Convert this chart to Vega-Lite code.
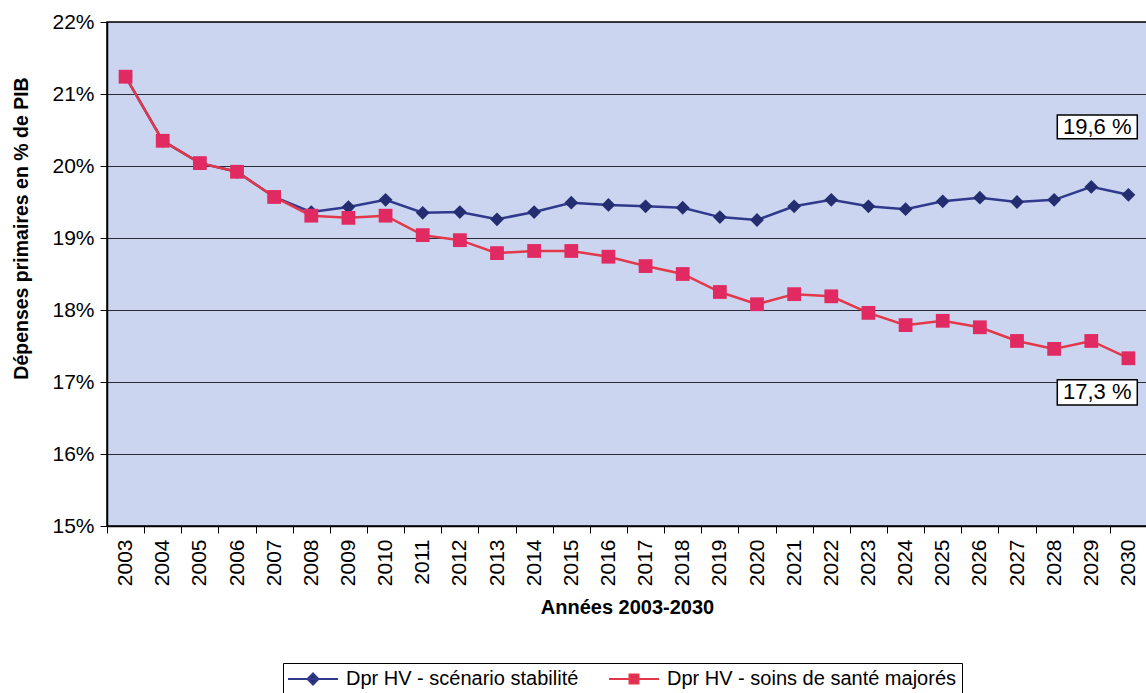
{
  "$schema": "https://vega.github.io/schema/vega-lite/v6.json",
  "width": 1040,
  "height": 504,
  "autosize": {"type": "none"},
  "padding": {"left": 107, "top": 22, "right": 0, "bottom": 167},
  "background": "white",
  "config": {
    "font": "Liberation Sans",
    "view": {"fill": "#cbd5f0", "stroke": "black", "strokeWidth": 1.5},
    "axis": {"labelFont": "Liberation Sans", "titleFont": "Liberation Sans", "labelColor": "black", "titleColor": "black"}
  },
  "datasets": {
    "series": [
      {"year": 2003, "series": "Dpr HV - scénario stabilité", "value": 21.24},
      {"year": 2004, "series": "Dpr HV - scénario stabilité", "value": 20.35},
      {"year": 2005, "series": "Dpr HV - scénario stabilité", "value": 20.04},
      {"year": 2006, "series": "Dpr HV - scénario stabilité", "value": 19.92},
      {"year": 2007, "series": "Dpr HV - scénario stabilité", "value": 19.57},
      {"year": 2008, "series": "Dpr HV - scénario stabilité", "value": 19.36},
      {"year": 2009, "series": "Dpr HV - scénario stabilité", "value": 19.43},
      {"year": 2010, "series": "Dpr HV - scénario stabilité", "value": 19.53},
      {"year": 2011, "series": "Dpr HV - scénario stabilité", "value": 19.35},
      {"year": 2012, "series": "Dpr HV - scénario stabilité", "value": 19.36},
      {"year": 2013, "series": "Dpr HV - scénario stabilité", "value": 19.26},
      {"year": 2014, "series": "Dpr HV - scénario stabilité", "value": 19.36},
      {"year": 2015, "series": "Dpr HV - scénario stabilité", "value": 19.49},
      {"year": 2016, "series": "Dpr HV - scénario stabilité", "value": 19.46},
      {"year": 2017, "series": "Dpr HV - scénario stabilité", "value": 19.44},
      {"year": 2018, "series": "Dpr HV - scénario stabilité", "value": 19.42},
      {"year": 2019, "series": "Dpr HV - scénario stabilité", "value": 19.29},
      {"year": 2020, "series": "Dpr HV - scénario stabilité", "value": 19.25},
      {"year": 2021, "series": "Dpr HV - scénario stabilité", "value": 19.44},
      {"year": 2022, "series": "Dpr HV - scénario stabilité", "value": 19.53},
      {"year": 2023, "series": "Dpr HV - scénario stabilité", "value": 19.44},
      {"year": 2024, "series": "Dpr HV - scénario stabilité", "value": 19.40},
      {"year": 2025, "series": "Dpr HV - scénario stabilité", "value": 19.51},
      {"year": 2026, "series": "Dpr HV - scénario stabilité", "value": 19.56},
      {"year": 2027, "series": "Dpr HV - scénario stabilité", "value": 19.50},
      {"year": 2028, "series": "Dpr HV - scénario stabilité", "value": 19.53},
      {"year": 2029, "series": "Dpr HV - scénario stabilité", "value": 19.71},
      {"year": 2030, "series": "Dpr HV - scénario stabilité", "value": 19.60},
      {"year": 2003, "series": "Dpr HV - soins de santé majorés", "value": 21.24},
      {"year": 2004, "series": "Dpr HV - soins de santé majorés", "value": 20.35},
      {"year": 2005, "series": "Dpr HV - soins de santé majorés", "value": 20.04},
      {"year": 2006, "series": "Dpr HV - soins de santé majorés", "value": 19.92},
      {"year": 2007, "series": "Dpr HV - soins de santé majorés", "value": 19.57},
      {"year": 2008, "series": "Dpr HV - soins de santé majorés", "value": 19.31},
      {"year": 2009, "series": "Dpr HV - soins de santé majorés", "value": 19.28},
      {"year": 2010, "series": "Dpr HV - soins de santé majorés", "value": 19.31},
      {"year": 2011, "series": "Dpr HV - soins de santé majorés", "value": 19.04},
      {"year": 2012, "series": "Dpr HV - soins de santé majorés", "value": 18.97},
      {"year": 2013, "series": "Dpr HV - soins de santé majorés", "value": 18.79},
      {"year": 2014, "series": "Dpr HV - soins de santé majorés", "value": 18.82},
      {"year": 2015, "series": "Dpr HV - soins de santé majorés", "value": 18.82},
      {"year": 2016, "series": "Dpr HV - soins de santé majorés", "value": 18.74},
      {"year": 2017, "series": "Dpr HV - soins de santé majorés", "value": 18.61},
      {"year": 2018, "series": "Dpr HV - soins de santé majorés", "value": 18.50},
      {"year": 2019, "series": "Dpr HV - soins de santé majorés", "value": 18.25},
      {"year": 2020, "series": "Dpr HV - soins de santé majorés", "value": 18.08},
      {"year": 2021, "series": "Dpr HV - soins de santé majorés", "value": 18.22},
      {"year": 2022, "series": "Dpr HV - soins de santé majorés", "value": 18.19},
      {"year": 2023, "series": "Dpr HV - soins de santé majorés", "value": 17.96},
      {"year": 2024, "series": "Dpr HV - soins de santé majorés", "value": 17.79},
      {"year": 2025, "series": "Dpr HV - soins de santé majorés", "value": 17.85},
      {"year": 2026, "series": "Dpr HV - soins de santé majorés", "value": 17.76},
      {"year": 2027, "series": "Dpr HV - soins de santé majorés", "value": 17.57},
      {"year": 2028, "series": "Dpr HV - soins de santé majorés", "value": 17.46},
      {"year": 2029, "series": "Dpr HV - soins de santé majorés", "value": 17.57},
      {"year": 2030, "series": "Dpr HV - soins de santé majorés", "value": 17.33}
    ],
    "notes": [
      {"year": 2029, "lo": 20.38, "hi": 20.71, "mid": 20.545, "text": "19,6 %"},
      {"year": 2029, "lo": 16.68, "hi": 17.03, "mid": 16.855, "text": "17,3 %"}
    ]
  },
  "layer": [
    {
      "data": {"name": "series"},
      "mark": {"type": "line", "strokeWidth": 2.5},
      "encoding": {
        "x": {
          "field": "year", "type": "ordinal",
          "scale": {"type": "band", "paddingInner": 0, "paddingOuter": 0},
          "axis": {
            "title": "Années 2003-2030",
            "titleFontSize": 20, "titleFontWeight": "bold", "titlePadding": 12,
            "labelAngle": -90, "labelFontSize": 21, "labelPadding": 6,
            "labelAlign": "right", "labelBaseline": "middle",
            "tickBand": "extent", "tickSize": 7, "tickColor": "black",
            "domainColor": "black", "domainWidth": 1.5, "grid": false
          }
        },
        "y": {
          "field": "value", "type": "quantitative",
          "scale": {"domain": [15, 22], "nice": false, "zero": false},
          "axis": {
            "title": "Dépenses primaires en % de PIB",
            "titleFontSize": 19.5, "titleFontWeight": "bold",
            "titleX": -76, "titleY": 206,
            "values": [15, 16, 17, 18, 19, 20, 21, 22],
            "labelExpr": "datum.value + '%'",
            "labelFontSize": 21, "labelPadding": 6,
            "tickSize": 7, "tickColor": "black",
            "domainColor": "black", "domainWidth": 1.5,
            "grid": true, "gridColor": "#2a2a35", "gridWidth": 1.2, "gridOpacity": 1
          }
        },
        "color": {
          "field": "series", "type": "nominal",
          "scale": {"domain": ["Dpr HV - scénario stabilité", "Dpr HV - soins de santé majorés"], "range": ["#2f3a8c", "#e2384a"]},
          "legend": {
            "title": null, "orient": "none", "legendX": 176, "legendY": 641,
            "direction": "horizontal",
            "strokeColor": "black", "padding": 5,
            "labelFontSize": 20, "labelFont": "Liberation Sans", "labelColor": "black", "labelLimit": 0,
            "symbolSize": 400, "symbolOffset": 14, "labelOffset": 22, "columnPadding": 26,
            "symbolStrokeWidth": 2,
            "encode": {
              "symbols": {
                "update": {
                  "shape": {"signal": "datum.value == 'Dpr HV - scénario stabilité' ? 'M-2.5,0L2.5,0M0,-0.55L0.55,0L0,0.55L-0.55,0Z' : 'M-2.5,0L2.5,0M-0.45,-0.45L0.45,-0.45L0.45,0.45L-0.45,0.45Z'"},
                  "fill": {"signal": "datum.value == 'Dpr HV - scénario stabilité' ? '#232d70' : '#e22a62'"},
                  "strokeWidth": {"value": 2},
                  "opacity": {"value": 1}
                }
              }
            }
          }
        },
        "detail": {"field": "series"}
      }
    },
    {
      "data": {"name": "series"},
      "mark": {"type": "point", "filled": true, "size": 190, "opacity": 1},
      "encoding": {
        "x": {"field": "year", "type": "ordinal"},
        "y": {"field": "value", "type": "quantitative"},
        "fill": {
          "field": "series", "type": "nominal",
          "scale": {"domain": ["Dpr HV - soins de santé majorés", "Dpr HV - scénario stabilité"], "range": ["#e22a62", "#232d70"]},
          "legend": null
        },
        "shape": {
          "field": "series", "type": "nominal",
          "scale": {"domain": ["Dpr HV - soins de santé majorés", "Dpr HV - scénario stabilité"], "range": ["square", "diamond"]},
          "legend": null
        }
      }
    },
    {
      "data": {"name": "notes"},
      "mark": {"type": "rect", "fill": "white", "stroke": "black", "strokeWidth": 1.5, "width": 80, "xOffset": 6},
      "encoding": {
        "x": {"field": "year", "type": "ordinal"},
        "y": {"field": "lo", "type": "quantitative"},
        "y2": {"field": "hi"}
      }
    },
    {
      "data": {"name": "notes"},
      "mark": {"type": "text", "fontSize": 22, "font": "Liberation Sans", "color": "black", "xOffset": 6, "baseline": "middle", "align": "center"},
      "encoding": {
        "x": {"field": "year", "type": "ordinal"},
        "y": {"field": "mid", "type": "quantitative"},
        "text": {"field": "text"}
      }
    }
  ]
}
